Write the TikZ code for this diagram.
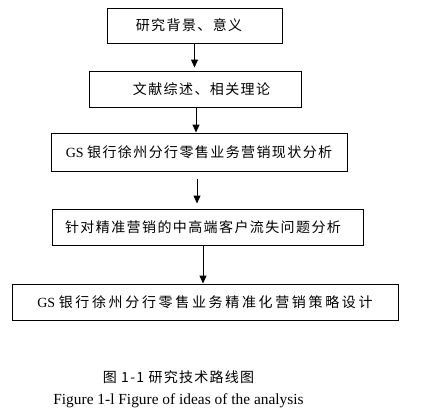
\documentclass[tikz,border=0pt]{standalone}
\usepackage{fontspec}
\setmainfont{Liberation Serif}
\newfontfamily\cjk[LetterSpace=10]{Noto Sans CJK SC}
\newfontfamily\cjkw[LetterSpace=19]{Noto Sans CJK SC}
\newfontfamily\cjkc[LetterSpace=9]{Noto Sans CJK SC}
\usetikzlibrary{arrows.meta}
\tikzset{
  stepbox/.style={draw=black, line width=1pt, inner sep=0pt, minimum height=36pt,
    font=\fontsize{14pt}{16pt}\selectfont},
  arr/.style={line width=1pt, -{Triangle[length=8pt,width=7pt]}},
  capt/.style={inner sep=0pt, font=\fontsize{14pt}{16pt}\selectfont}
}
\begin{document}
\begin{tikzpicture}[x=1pt,y=1pt]
\useasboundingbox (0,0) rectangle (427,-413);
\node[stepbox, minimum width=175pt, minimum height=35pt] (b1) at (194.5,-25.5) {\cjk 研究背景、意义\hspace*{11pt}};
\node[stepbox, minimum width=212pt] (b2) at (195,-89) {\hspace*{13pt}\cjk 文献综述、相关理论};
\node[stepbox, minimum width=296pt, minimum height=38pt] (b3) at (199,-152) {GS \cjk 银行徐州分行零售业务营销现状分析};
\node[stepbox, minimum width=311pt] (b4) at (207.5,-227) {\cjk 针对精准营销的中高端客户流失问题分析\hspace*{9pt}};
\node[stepbox, minimum width=386pt] (b5) at (205,-302) {GS \cjkw 银行徐州分行零售业务精准化营销策略设计};

\draw[arr, shorten >=3pt] (b1.south) -- (b1.south |- b2.north);
\draw[arr] ([xshift=1pt]b2.south) -- ([xshift=1pt]b2.south |- b3.north);
\draw[arr, shorten <=7pt, shorten >=5pt] ([xshift=-2pt]b3.south) -- ([xshift=-2pt]b3.south |- b4.north);
\draw[arr] ([xshift=-4.5pt]b4.south) -- ([xshift=-4.5pt]b4.south |- b5.north);

\node[capt] (c1) at (178.5,-377) {\cjkc 图 1-1 研究技术路线图};
\node[capt, font=\fontsize{15.4pt}{17pt}\selectfont] (c2) at (178.5,-401) {Figure 1-l Figure of ideas of the analysis};
\end{tikzpicture}
\end{document}
